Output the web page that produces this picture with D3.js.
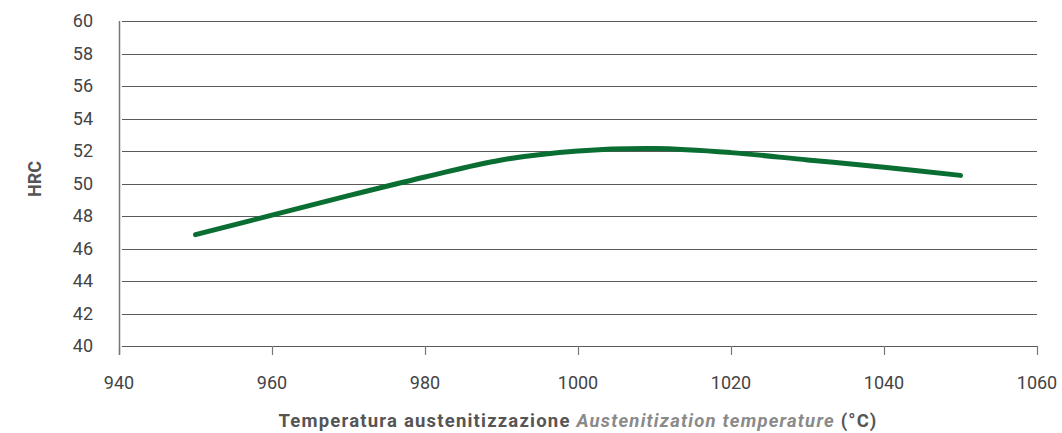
<!DOCTYPE html>
<html>
<head>
<meta charset="utf-8">
<script src="https://cdn.jsdelivr.net/npm/d3@7"></script>
<style>
  body { margin: 0; background: #fff; }
  svg text { font-family: Roboto, "DejaVu Sans", sans-serif; }
</style>
</head>
<body>
<div id="chart"></div>
<script>
// values
var temps = [950, 960, 970, 980, 990, 1000, 1010, 1020, 1030, 1040, 1050];
var hrc = [46.85, 48.05, 49.25, 50.4, 51.45, 52.0, 52.15, 51.9, 51.45, 51.0, 50.5];
var xTicks = [940, 960, 980, 1000, 1020, 1040, 1060];
var yTicks = [40, 42, 44, 46, 48, 50, 52, 54, 56, 58, 60];

var width = 1062, height = 433;
var margin = {top: 21, right: 25, bottom: 87, left: 119};

var svg = d3.select('#chart').append('svg')
    .attr('width', width)
    .attr('height', height);

var x = d3.scaleLinear()
    .domain([940, 1060])
    .range([margin.left, width - margin.right]);

var y = d3.scaleLinear()
    .domain([40, 60])
    .range([height - margin.bottom, margin.top]);

// horizontal grid
svg.append('g')
    .selectAll('line')
    .data(yTicks)
    .enter().append('line')
    .attr('x1', margin.left + 3)
    .attr('x2', width - margin.right)
    .attr('y1', function(d) { return Math.round(y(d)) + 0.5; })
    .attr('y2', function(d) { return Math.round(y(d)) + 0.5; })
    .style('stroke', '#5a5a5a')
    .style('stroke-width', 1);

// x ticks hanging below the 40 line
svg.append('g')
    .selectAll('line')
    .data(xTicks)
    .enter().append('line')
    .attr('x1', function(d) { return Math.round(x(d)) + 0.5; })
    .attr('x2', function(d) { return Math.round(x(d)) + 0.5; })
    .attr('y1', y(40))
    .attr('y2', y(40) + 9)
    .style('stroke', '#777')
    .style('stroke-width', 1.2);

// y axis line
svg.append('line')
    .attr('x1', margin.left + 0.5)
    .attr('x2', margin.left + 0.5)
    .attr('y1', y(60))
    .attr('y2', y(40) + 9)
    .style('stroke', '#777')
    .style('stroke-width', 1.5);

// tick labels
svg.append('g')
    .selectAll('text')
    .data(yTicks)
    .enter().append('text')
    .attr('x', margin.left - 26)
    .attr('y', function(d) { return y(d); })
    .attr('dy', '0.36em')
    .attr('text-anchor', 'end')
    .style('font-size', '18px')
    .style('fill', '#444')
    .text(function(d) { return d; });

svg.append('g')
    .selectAll('text')
    .data(xTicks)
    .enter().append('text')
    .attr('x', function(d) { return x(d); })
    .attr('y', 389)
    .attr('text-anchor', 'middle')
    .style('font-size', '18px')
    .style('fill', '#444')
    .text(function(d) { return d; });

// axis titles
svg.append('text')
    .attr('transform', 'translate(41,179) rotate(-90)')
    .attr('text-anchor', 'middle')
    .style('font-size', '18px')
    .style('font-weight', 'bold')
    .style('fill', '#555')
    .text('HRC');

var title = svg.append('text')
    .attr('x', 578)
    .attr('y', 427)
    .attr('text-anchor', 'middle')
    .style('font-size', '18.5px')
    .style('letter-spacing', '1.2px')
    .style('font-weight', 'bold')
    .style('fill', '#555');
title.append('tspan').text('Temperatura austenitizzazione ');
title.append('tspan').style('font-style', 'italic').style('fill', '#8a8a8a').text('Austenitization temperature');
title.append('tspan').text(' (°C)');

// curve
var line = d3.line()
    .x(function(d, i) { return x(temps[i]); })
    .y(function(d) { return y(d); })
    .curve(d3.curveCatmullRom);

svg.append('path')
    .datum(hrc)
    .attr('d', line)
    .style('fill', 'none')
    .style('stroke', '#0a6e33')
    .style('stroke-width', 5)
    .style('stroke-linecap', 'round');
</script>
</body>
</html>
